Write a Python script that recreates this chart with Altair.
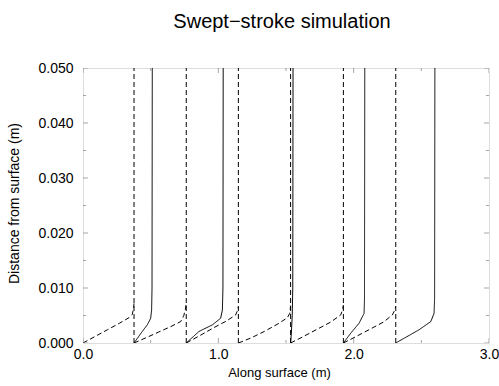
import altair as alt
import pandas as pd

# ---- data ----
dash_vert_x = [0.377, 0.763, 1.148, 1.534, 1.924, 2.311]

d1_x = [0.000, 0.090, 0.180, 0.270, 0.340, 0.364, 0.373, 0.377]
d1_y = [0.0000, 0.0012, 0.0024, 0.0036, 0.0046, 0.0052, 0.0062, 0.0072]
d2_x = [0.377, 0.470, 0.560, 0.650, 0.722, 0.745, 0.757, 0.763]
d2_y = [0.0000, 0.0010, 0.0020, 0.0030, 0.0039, 0.0050, 0.0062, 0.0072]
d3_x = [0.763, 0.860, 0.960, 1.060, 1.128, 1.140, 1.148]
d3_y = [0.0000, 0.0013, 0.0027, 0.0040, 0.0051, 0.0058, 0.0066]
d4_x = [1.148, 1.240, 1.340, 1.449, 1.510, 1.528, 1.534]
d4_y = [0.0000, 0.0009, 0.0021, 0.0036, 0.0046, 0.0054, 0.0068]
d5_x = [1.534, 1.630, 1.730, 1.830, 1.904, 1.918, 1.924]
d5_y = [0.0000, 0.0012, 0.0025, 0.0038, 0.0051, 0.0060, 0.0069]
d6_x = [1.924, 2.020, 2.120, 2.220, 2.286, 2.300, 2.311]
d6_y = [0.0000, 0.0012, 0.0025, 0.0038, 0.0051, 0.0058, 0.0066]

s1_x = [0.377, 0.438, 0.475, 0.500, 0.507, 0.510, 0.512]
s1_y = [0.0000, 0.0021, 0.0033, 0.0045, 0.0060, 0.0100, 0.0500]
s2_x = [0.763, 0.857, 0.956, 1.017, 1.030, 1.034, 1.036]
s2_y = [0.0000, 0.0021, 0.0033, 0.0045, 0.0060, 0.0100, 0.0500]
s3_x = [1.534, 1.540, 1.546, 1.550, 1.552]
s3_y = [0.0000, 0.0020, 0.0050, 0.0100, 0.0500]
s4_x = [1.924, 1.979, 2.040, 2.077, 2.080, 2.082]
s4_y = [0.0000, 0.0018, 0.0036, 0.0054, 0.0080, 0.0500]
s5_x = [2.311, 2.483, 2.570, 2.594, 2.598, 2.600]
s5_y = [0.0000, 0.0024, 0.0039, 0.0054, 0.0080, 0.0500]

x_major = [0.0, 1.0, 2.0, 3.0]
x_minor = [0.5, 1.5, 2.5]
y_major = [0.0, 0.01, 0.02, 0.03, 0.04, 0.05]
y_minor = [0.005, 0.015, 0.025, 0.035, 0.045]

# ---- build table ----
rows = []
def add(name, style, xs, ys):
    for i, (a, b) in enumerate(zip(xs, ys)):
        rows.append({"series": name, "style": style, "i": i, "x": a, "y": b})

for k, xv in enumerate(dash_vert_x):
    add(f"dv{k}", "dashed", [xv, xv], [0.0, 0.05])
for k, (xs, ys) in enumerate([(d1_x, d1_y), (d2_x, d2_y), (d3_x, d3_y),
                              (d4_x, d4_y), (d5_x, d5_y), (d6_x, d6_y)]):
    add(f"dc{k}", "dashed", xs, ys)
for k, (xs, ys) in enumerate([(s1_x, s1_y), (s2_x, s2_y), (s3_x, s3_y),
                              (s4_x, s4_y), (s5_x, s5_y)]):
    add(f"s{k}", "solid", xs, ys)
df = pd.DataFrame(rows)

FONT = "Liberation Sans"
FRAME = "#808080"

xscale = alt.Scale(domain=[0, 3], nice=False, zero=False, padding=0)
yscale = alt.Scale(domain=[0, 0.05], nice=False, zero=False, padding=0)

lines = alt.Chart(df).mark_line(strokeWidth=1, color="black", clip=True).encode(
    x=alt.X("x:Q", scale=xscale, title="Along surface (m)",
            axis=alt.Axis(values=x_major, format=".1f", ticks=False, domain=False,
                          grid=False, labelFlush=False, labelFont=FONT,
                          labelFontSize=14, labelColor="black", labelPadding=4,
                          titleFont=FONT, titleFontSize=13, titleFontWeight="normal",
                          titleColor="black", titleX=196, titleY=29,
                          titleAlign="center", titleBaseline="middle")),
    y=alt.Y("y:Q", scale=yscale, title="Distance from surface (m)",
            axis=alt.Axis(values=y_major, format=".3f", ticks=False, domain=False,
                          grid=False, labelFlush=False, labelFont=FONT,
                          labelFontSize=14, labelColor="black", labelPadding=10,
                          titleFont=FONT, titleFontSize=14, titleFontWeight="normal",
                          titleColor="black", titleX=-69, titleY=135,
                          titleAngle=-90, titleAlign="center",
                          titleBaseline="middle")),
    detail="series:N",
    order="i:Q",
    strokeDash=alt.StrokeDash("style:N", scale=alt.Scale(domain=["solid", "dashed"],
                                                         range=[[1, 0], [5, 3]]),
                              legend=None),
)

def xticks(vals, yv, size):
    return alt.Chart(pd.DataFrame({"t": vals})).mark_tick(
        orient="vertical", size=size, thickness=1, color=FRAME, clip=True
    ).encode(x=alt.X("t:Q", scale=xscale), y=alt.datum(yv))

def yticks(vals, xv, size):
    return alt.Chart(pd.DataFrame({"t": vals})).mark_tick(
        orient="horizontal", size=size, thickness=1, color=FRAME, clip=True
    ).encode(y=alt.Y("t:Q", scale=yscale), x=alt.datum(xv))

ticks = [
    xticks(x_major, 0.0, 10), xticks(x_minor, 0.0, 6),
    xticks(x_major, 0.05, 10), xticks(x_minor, 0.05, 6),
    yticks(y_major, 0.0, 10), yticks(y_minor, 0.0, 6),
    yticks(y_major, 3.0, 10), yticks(y_minor, 3.0, 6),
]

chart = alt.layer(lines, *ticks).properties(
    width=406, height=275,
    title=alt.TitleParams("Swept\u2212stroke simulation", font=FONT, fontSize=20,
                          fontWeight="normal", color="black", anchor="middle",
                          offset=29, dx=-4),
    autosize=alt.AutoSizeParams(type="none"),
    padding={"left": 83, "top": 68, "right": 10, "bottom": 43},
).configure_view(stroke=FRAME, strokeWidth=1).configure(background="white")

chart.save("out.html", embed_options={"renderer": "svg", "actions": False})
